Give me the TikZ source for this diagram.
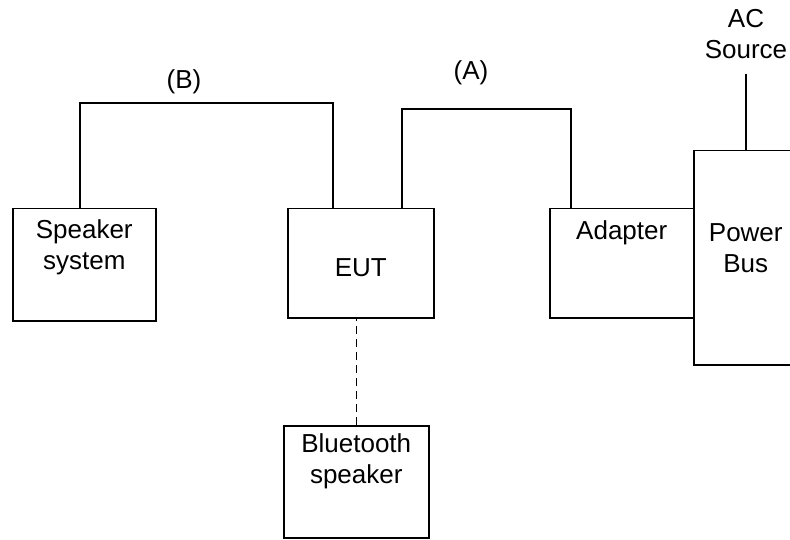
\documentclass[tikz,border=0pt]{standalone}
\usepackage{fontspec}
\setmainfont{Liberation Sans}
\begin{document}
\begin{tikzpicture}[x=1pt,y=-1pt,line width=1.5pt,font=\fontsize{26}{30.5}\selectfont,
	box/.style={draw,rectangle,inner sep=0pt,anchor=north west},
	lbl/.style={anchor=north,align=center,inner sep=0pt},
	btlink/.style={dash pattern=on 8pt off 5pt}]
	\useasboundingbox (0,0) rectangle (790,540);
	% units
	\node[box,minimum width=143pt,minimum height=112pt,label={[lbl,name=spktxt,yshift=-11pt]north:Speaker\\system}] (spk) at (12,208) {};
	\node[box,minimum width=146pt,minimum height=109pt,label={[lbl,name=euttxt,yshift=-50pt]north:EUT}] (eut) at (287,208) {};
	\node[box,minimum width=145pt,minimum height=112pt,label={[lbl,name=bttxt,yshift=-8pt]north:Bluetooth\\speaker}] (bt) at (283,425) {};
	\node[box,minimum width=144pt,minimum height=109pt,label={[lbl,name=adptxt,yshift=-12pt]north:Adapter}] (adp) at (549,208) {};
	\node[box,minimum width=104pt,minimum height=214pt,label={[lbl,name=bustxt,yshift=-73pt]north:Power\\Bus}] (bus) at (693,150) {};
	% labels
	\node (labB) at (184,82) {(B)};
	\node (labA) at (471,73) {(A)};
	\node[align=center] (ac) at (746,34) {AC\\Source};
	% cables
	\coordinate (topB) at (0,103);
	\coordinate (topA) at (0,109);
	\draw ([xshift=-4.5pt]spk.north) -- ([xshift=-4.5pt]spk.north |- topB) -| ([xshift=-28pt]eut.north);
	\draw ([xshift=41pt]eut.north) -- ([xshift=41pt]eut.north |- topA) -| ([xshift=-51pt]adp.north);
	\draw ([yshift=-11pt]ac.south) -- (ac.south |- bus.north);
	\draw[btlink] (bt.north) -- (bt.north |- eut.south);
\end{tikzpicture}
\end{document}
